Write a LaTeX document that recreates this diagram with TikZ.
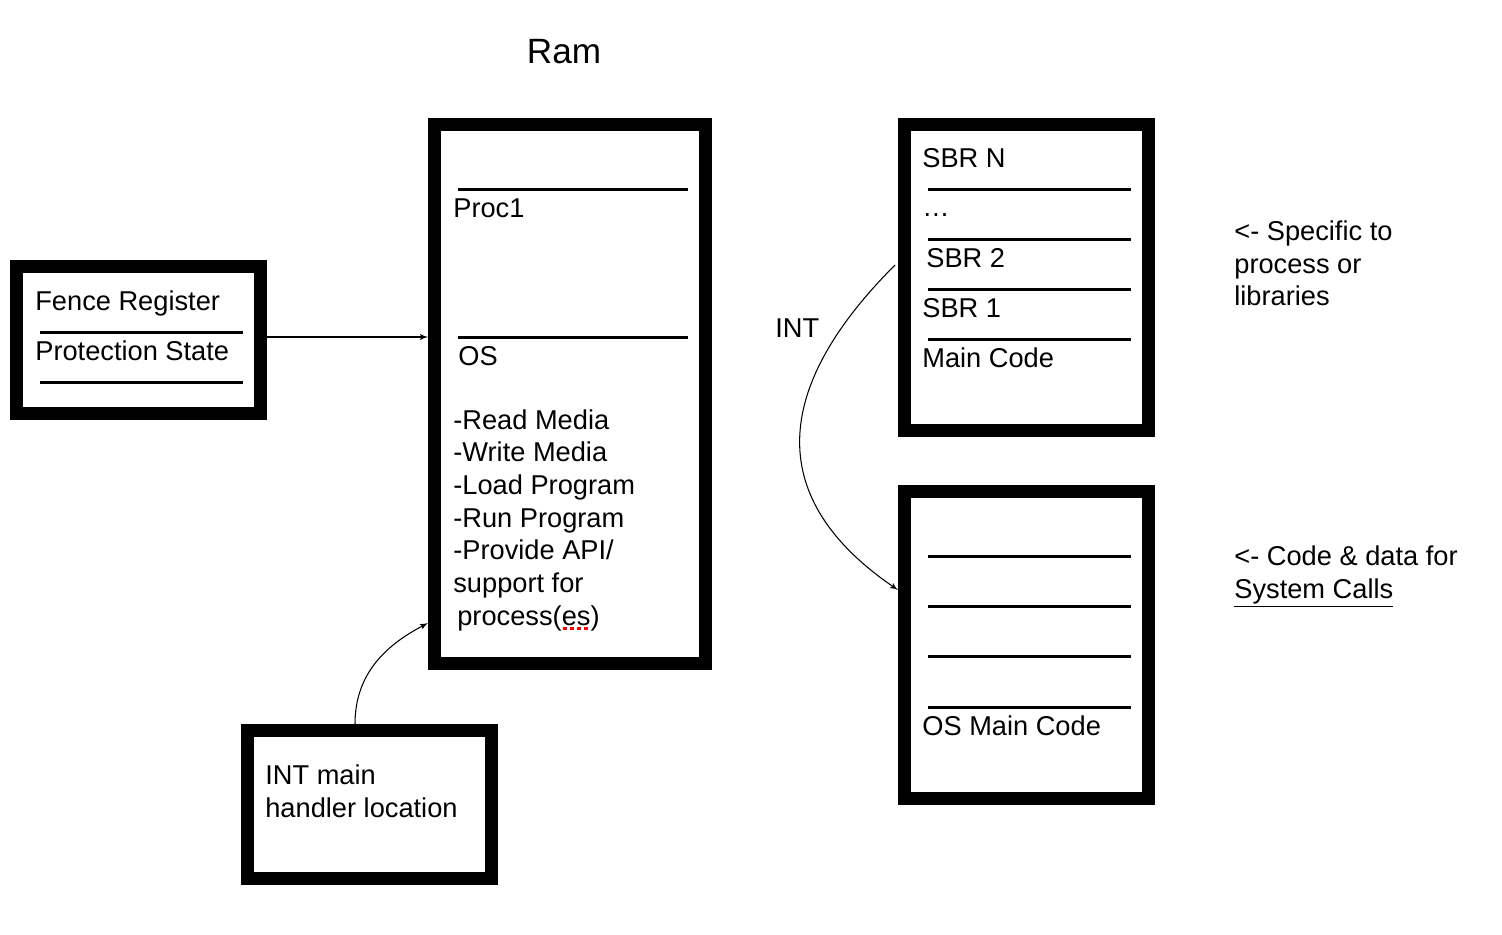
\documentclass[tikz,border=0pt]{standalone}
\usepackage{fontspec}
\setmainfont{Liberation Sans}
\usepackage{tikz}
\usetikzlibrary{arrows, calc, positioning}

\tikzset{
  membox/.style={draw, line width=7.4pt, inner sep=0pt, minimum width=4.88cm},
  divider/.style={line width=1.7pt},
  lbl/.style={anchor=base west, inner sep=0pt, font=\fontsize{15.5}{18.6}\selectfont},
}

\begin{document}
\begin{tikzpicture}[>=latex', x=0.02cm, y=-0.02cm]
        \useasboundingbox (0,0) rectangle (1502,934);

        % boxes
        \node[membox, minimum height=2.94cm] (fence) at (138.5,340) {};
        \node[membox, minimum width=5.42cm, minimum height=10.78cm] (ram) at (570,394) {};
        \node[membox, minimum height=6.12cm] (sbr) at (1026.5,277.5) {};
        \node[membox, minimum height=6.14cm] (osbox) at (1026.5,645) {};
        \node[membox, minimum height=2.96cm] (intbox) at (369.5,804.5) {};

        % dividers
        \foreach \y in {332,382} \draw[divider] (40,\y) -- (243,\y);
        \foreach \y in {189,337} \draw[divider] (458,\y) -- (688,\y);
        \foreach \y in {189,239,289,339} \draw[divider] (928,\y) -- (1131,\y);
        \foreach \y in {556,606,656,707} \draw[divider] (928,\y) -- (1131,\y);

        % texts
        \node[anchor=base, inner sep=0pt, font=\fontsize{20}{24}\selectfont] (title) at (564,63) {Ram};
        \node[lbl] (fencereg) at (35,310) {Fence Register};
        \node[lbl] (protstate) at (35,360) {Protection State};
        \node[lbl] (proc) at (453,217) {Proc1};
        \node[lbl] (oslbl) at (458,365) {OS};
        \foreach \t [count=\i from 0] in {-Read Media, -Write Media, -Load Program, -Run Program, -Provide API/, support for}
            \node[lbl] (task\i) at (453,{429+32.7*\i}) {\t};
        \node[lbl] (task6) at (457,625) {process(es)};
        \draw[red, line width=1.6pt, dash pattern=on 2.4pt off 1.6pt] (563,628.5) -- (589,628.5);
        \node[lbl] (sbrn) at (922,167) {SBR N};
        \node[lbl] (dots) at (922,216) {\dots};
        \node[lbl] (sbrtwo) at (926,267) {SBR 2};
        \node[lbl] (sbrone) at (922,317) {SBR 1};
        \node[lbl] (maincode) at (922,367) {Main Code};
        \node[lbl] (osmain) at (922,735) {OS Main Code};
        \node[lbl, align=left] (intmain) at (265,784) {INT main};
        \node[lbl] (handler) at (265,817) {handler location};
        \node[lbl] (intlbl) at (775,337) {INT};
        \node[lbl] (spec1) at (1234,240) {<- Specific to};
        \node[lbl] (spec2) at (1234,273) {process or};
        \node[lbl] (spec3) at (1234,305) {libraries};
        \node[lbl] (sys1) at (1234,565) {<- Code \& data for};
        \node[lbl] (sys2) at (1234,598) {\underline{System Calls}};

        % arrows
        \draw[->, line width=0.6pt] ($(fence.east)+(0,-3)$) -- ($(fence.east -| ram.west)+(0,-3)$);
        \draw[->, line width=0.6pt] ($(intbox.north)+(-14.5,0)$) .. controls (355,672) and (388,644) .. ($(ram.west)+(0,229)$);
        \draw[->, line width=0.6pt] ($(sbr.west)+(-3,-12.5)$) .. controls (770,390) and (766,500) .. ($(osbox.west)+(0,-55)$);
\end{tikzpicture}
\end{document}
